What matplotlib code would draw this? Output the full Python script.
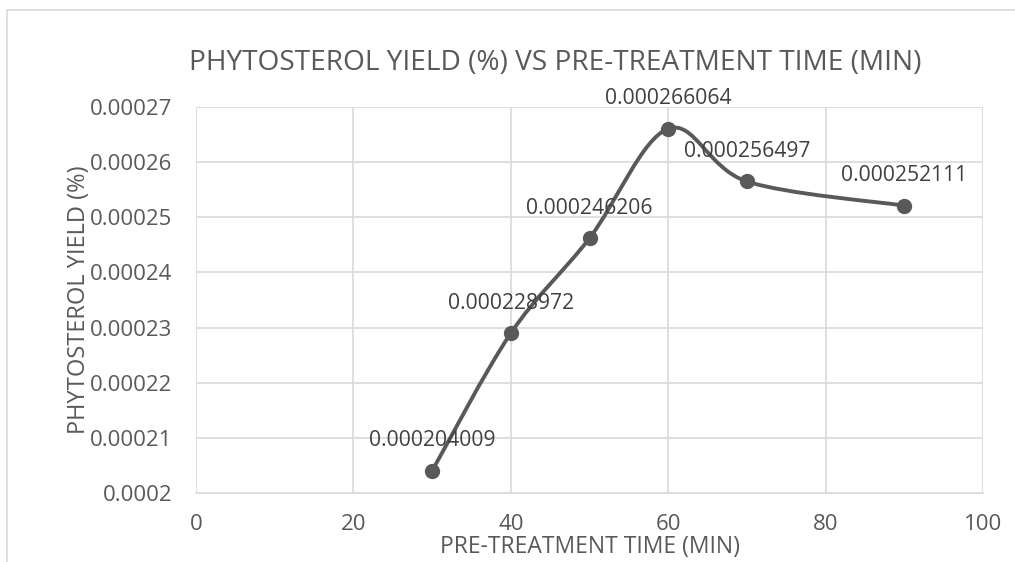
import matplotlib
matplotlib.use("Agg")
import matplotlib.pyplot as plt
from matplotlib.path import Path
from matplotlib.patches import PathPatch, Rectangle
from matplotlib.ticker import FuncFormatter
import numpy as np

# data
time_min = [30, 40, 50, 60, 70, 90]
yield_pct = [0.000204009, 0.000228972, 0.000246206, 0.000266064, 0.000256497, 0.000252111]
point_labels = ["0.000204009", "0.000228972", "0.000246206", "0.000266064", "0.000256497", "0.000252111"]

x_ticks = [0, 20, 40, 60, 80, 100]
y_ticks = [0.0002, 0.00021, 0.00022, 0.00023, 0.00024, 0.00025, 0.00026, 0.00027]

grey = "#595959"
grid_grey = "#d9d9d9"

plt.rcParams['font.family'] = ['Open Sans', 'DejaVu Sans']

fig = plt.figure(figsize=(10.15, 5.62), dpi=100)
fig.patches.append(Rectangle((7/1015, -0.1), 1.1, 1 - 10/562 + 0.1, transform=fig.transFigure,
                             fill=False, edgecolor=grid_grey, linewidth=1.2))
ax = fig.add_axes([196/1015, 1 - 493/562, (983-196)/1015, (493-107)/562])

# excel style smoothed line (bezier through the points)
pts = np.column_stack([time_min, yield_pct])
verts = [pts[0]]
codes = [Path.MOVETO]
n = len(pts)
for i in range(n - 1):
    p0 = pts[i - 1] if i > 0 else pts[i]
    p1 = pts[i]
    p2 = pts[i + 1]
    p3 = pts[i + 2] if i + 2 < n else pts[i + 1]
    c1 = p1 + (p2 - p0) / 6.0
    c2 = p2 - (p3 - p1) / 6.0
    verts += [c1, c2, p2]
    codes += [Path.CURVE4] * 3
ax.add_patch(PathPatch(Path(verts, codes), fill=False, edgecolor=grey, linewidth=2.8,
                       capstyle='round', zorder=3))
ax.plot(time_min, yield_pct, linestyle='none', marker='o', markersize=10, color=grey, zorder=4)

for xv, yv, lab in zip(time_min, yield_pct, point_labels):
    ax.annotate(lab, (xv, yv), xytext=(0, 14), textcoords='offset points', ha='center',
                va='bottom', fontsize=15.2, color="#404040", zorder=5)

ax.set_xlim(0, 100)
ax.set_ylim(0.0002, 0.00027)
ax.set_xticks(x_ticks)
ax.set_yticks(y_ticks)
ax.yaxis.set_major_formatter(FuncFormatter(lambda v, p: f"{v:.5f}".rstrip('0')))
ax.grid(True, color=grid_grey, linewidth=1.2)
ax.set_axisbelow(True)
for s in ax.spines.values():
    s.set_visible(False)
ax.spines['bottom'].set_visible(True)
ax.spines['bottom'].set_color(grid_grey)
ax.spines['bottom'].set_linewidth(1.2)
ax.tick_params(length=0, labelsize=16, colors=grey)
ax.tick_params(axis='x', pad=15)
ax.tick_params(axis='y', pad=17)

fig.text(555/1015, 1 - 63/562, "PHYTOSTEROL YIELD (%) VS PRE-TREATMENT TIME (MIN)", fontsize=20.2,
         color=grey, ha='center', va='center')
ax.set_xlabel("PRE-TREATMENT TIME (MIN)", fontsize=16.5, color=grey, labelpad=0)
ax.set_ylabel("PHYTOSTEROL YIELD (%)", fontsize=17, color=grey, labelpad=-1)

fig.savefig("out.png", dpi=100)
